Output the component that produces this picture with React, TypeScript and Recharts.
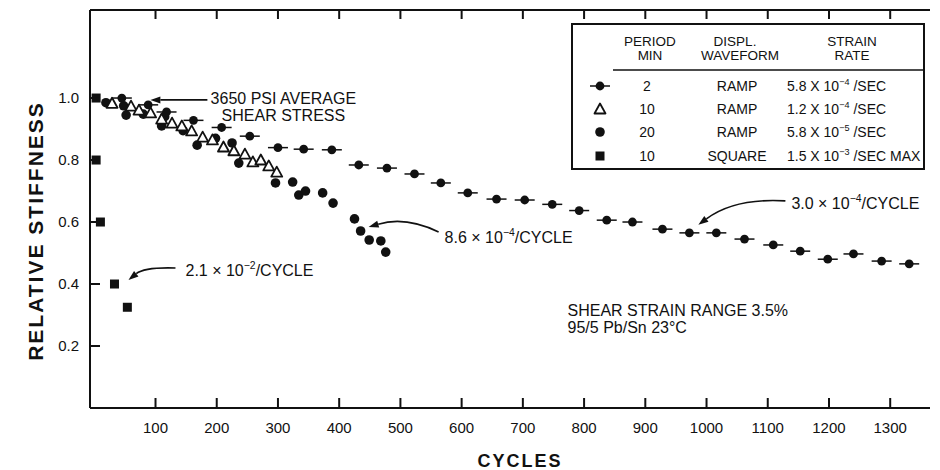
import React from 'react';
import { ScatterChart, Scatter, XAxis, YAxis, ReferenceDot } from 'recharts';

const FONT = '"Liberation Sans", Arial, Helvetica, sans-serif';
const INK = '#111';

// period 2 min, ramp (dot with dash)
const ramp2Cycles = [45, 88, 118, 162, 208, 254, 300, 342, 388, 432, 478, 523, 566, 610, 657, 703, 748, 792, 837, 879, 928, 972, 1016, 1062, 1109, 1153, 1198, 1240, 1286, 1331];
const ramp2Stiffness = [1.0, 0.978, 0.955, 0.928, 0.905, 0.877, 0.84, 0.835, 0.833, 0.784, 0.774, 0.755, 0.726, 0.694, 0.674, 0.671, 0.657, 0.637, 0.606, 0.6, 0.577, 0.565, 0.565, 0.545, 0.526, 0.506, 0.48, 0.497, 0.474, 0.465];

// period 10 min, ramp (open triangle)
const ramp10Cycles = [29, 60, 73, 92, 110, 127, 143, 159, 177, 193, 211, 228, 246, 259, 272, 285, 298];
const ramp10Stiffness = [0.983, 0.974, 0.961, 0.952, 0.932, 0.919, 0.91, 0.894, 0.874, 0.865, 0.842, 0.83, 0.819, 0.794, 0.8, 0.781, 0.761];

// period 20 min, ramp (dot)
const ramp20Cycles = [19, 48, 52, 80, 110, 115, 145, 168, 198, 225, 236, 296, 324, 334, 345, 373, 390, 425, 435, 449, 468, 476];
const ramp20Stiffness = [0.985, 0.975, 0.945, 0.948, 0.91, 0.94, 0.895, 0.848, 0.87, 0.855, 0.79, 0.726, 0.729, 0.687, 0.7, 0.694, 0.661, 0.61, 0.571, 0.542, 0.539, 0.503];

// period 10 min, square wave (square)
const squareCycles = [3, 3, 10, 33, 54];
const squareStiffness = [1.0, 0.8, 0.6, 0.4, 0.325];

const xTicks = [100, 200, 300, 400, 500, 600, 700, 800, 900, 1000, 1100, 1200, 1300];
const yTicks = [0.2, 0.4, 0.6, 0.8, 1.0];
const xDomain: [number, number] = [-7, 1365];
const yDomain: [number, number] = [0, 1.284];

const legendPeriods = ['2', '10', '20', '10'];
const legendWaveforms = ['RAMP', 'RAMP', 'RAMP', 'SQUARE'];
const legendRateBase = ['5.8 X 10', '1.2 X 10', '5.8 X 10', '1.5 X 10'];
const legendRateExp = ['\u22124', '\u22124', '\u22125', '\u22123'];
const legendRateUnit = ['/SEC', '/SEC', '/SEC', '/SEC MAX'];

const toPoints = (xs: number[], ys: number[]) => xs.map((x, i) => ({ x, y: ys[i] }));

const ramp2 = toPoints(ramp2Cycles, ramp2Stiffness);
const ramp10 = toPoints(ramp10Cycles, ramp10Stiffness);
const ramp20 = toPoints(ramp20Cycles, ramp20Stiffness);
const square = toPoints(squareCycles, squareStiffness);

const CHART_W = 940;
const CHART_H = 470;
const MARGIN = { top: 9, right: 10, bottom: 0, left: 10 };
const Y_AXIS_W = 80;
const TOP_AXIS_H = 1;
const TICK_LEN = 10;

// plot box, same numbers the chart lays itself out with
const plotLeft = MARGIN.left + Y_AXIS_W;
const plotRight = CHART_W - MARGIN.right;
const plotTop = MARGIN.top + TOP_AXIS_H;

// marker shapes
const DashDot = ({ cx, cy }: any) => (
    <g>
        <line x1={cx - 10} x2={cx + 10} y1={cy} y2={cy} stroke={INK} strokeWidth={1.5} />
        <circle cx={cx} cy={cy} r={4.4} fill={INK} />
    </g>
);
const OpenTriangle = ({ cx, cy }: any) => (
    <path
        d={`M${cx},${cy - 5.5} L${cx + 5.5},${cy + 4.5} L${cx - 5.5},${cy + 4.5} Z`}
        fill="#fff"
        stroke={INK}
        strokeWidth={1.8}
        strokeLinejoin="round"
    />
);
const Dot = ({ cx, cy }: any) => <circle cx={cx} cy={cy} r={4.8} fill={INK} />;
const Square = ({ cx, cy }: any) => <rect x={cx - 4.5} y={cy - 4.5} width={9} height={9} fill={INK} />;

const CurvedArrow = ({ x1, y1, qx, qy, x2, y2 }: any) => {
    const ang = Math.atan2(y2 - qy, x2 - qx);
    const len = 10;
    const half = 3.5;
    const bx = x2 - len * Math.cos(ang);
    const by = y2 - len * Math.sin(ang);
    const px = -Math.sin(ang) * half;
    const py = Math.cos(ang) * half;
    return (
        <g>
            <path d={`M${x1},${y1} Q${qx},${qy} ${bx},${by}`} fill="none" stroke={INK} strokeWidth={1.6} />
            <path d={`M${x2},${y2} L${bx + px},${by + py} L${bx - px},${by - py} Z`} fill={INK} />
        </g>
    );
};

const RateText = ({ x, y, base, exp, unit, size, anchor = 'start' }: any) => (
    <text x={x} y={y} fontSize={size} fill={INK} fontFamily={FONT} textAnchor={anchor} style={{ whiteSpace: 'pre' }}>
        {base}
        <tspan dy={-size * 0.45} fontSize={size * 0.65}>{exp}</tspan>
        <tspan dy={size * 0.45} fontSize={size}>{unit}</tspan>
    </text>
);

const LeftTick = ({ x, y, payload }: any) => (
    <g>
        <path d={`M${x + 11},${y} h${TICK_LEN}`} stroke={INK} strokeWidth={2} fill="none" />
        <text x={x} y={y + 5} textAnchor="end" fontSize={15} fill={INK} fontFamily={FONT}>
            {Number(payload.value).toFixed(1)}
        </text>
    </g>
);
const BottomTick = ({ x, y, payload }: any) => (
    <g>
        <path d={`M${x},${y - 20} v${-TICK_LEN}`} stroke={INK} strokeWidth={2} fill="none" />
        <text x={x} y={y + 5} textAnchor="middle" fontSize={15} fill={INK} fontFamily={FONT}>
            {payload.value}
        </text>
    </g>
);

// inward marks along the top frame, laid over the chart
const TopTicks = () => {
    const scaleX = (v: number) => plotLeft + ((v - xDomain[0]) / (xDomain[1] - xDomain[0])) * (plotRight - plotLeft);
    return (
        <svg width={CHART_W} height={40} style={{ position: 'absolute', left: 0, top: 0, pointerEvents: 'none' }}>
            {xTicks.map((t) => (
                <path key={t} d={`M${scaleX(t)},${plotTop} v${TICK_LEN - 1}`} stroke={INK} strokeWidth={2} fill="none" />
            ))}
        </svg>
    );
};

const XTitle = (props: any) => {
    const vb = props.viewBox ?? { x: 90, y: 408, width: 840, height: 62 };
    return (
        <text x={vb.x + vb.width / 2 + 10} y={vb.y + vb.height - 3} textAnchor="middle" fontSize={18} fontWeight="bold" letterSpacing={2} fill={INK} fontFamily={FONT}>
            CYCLES
        </text>
    );
};
const YTitle = (props: any) => {
    const vb = props.viewBox ?? { x: 10, y: 10, width: 80, height: 398 };
    const cx = vb.x + 25;
    const cy = vb.y + vb.height / 2 + 22;
    return (
        <text transform={`translate(${cx},${cy}) rotate(-90)`} textAnchor="middle" dominantBaseline="central" fontSize={21} fontWeight="bold" letterSpacing={2} fill={INK} fontFamily={FONT}>
            RELATIVE STIFFNESS
        </text>
    );
};

const noteText = { fontSize: 16, fill: INK, fontFamily: FONT } as const;

const LegendBox = () => {
    const rows = [63, 86, 109, 133];
    const symbols = [DashDot, OpenTriangle, Dot, Square];
    return (
        <svg width={354} height={147} style={{ position: 'absolute', left: 571, top: 23 }}>
            <rect x={1} y={1} width={352} height={145} fill="#fff" stroke={INK} strokeWidth={2} />
            <g fontFamily={FONT} fontSize={13.5} fill={INK} textAnchor="middle">
                <text x={79} y={23}>PERIOD</text>
                <text x={79} y={37}>MIN</text>
                <text x={164} y={23}>DISPL.</text>
                <text x={169} y={37}>WAVEFORM</text>
                <text x={281} y={23}>STRAIN</text>
                <text x={281} y={37}>RATE</text>
            </g>
            <line x1={42} x2={354} y1={47} y2={47} stroke={INK} strokeWidth={1.5} />
            {rows.map((ry, i) => {
                const Sym = symbols[i];
                return (
                    <g key={i}>
                        <Sym cx={29} cy={ry} />
                        <text x={76} y={ry + 5} textAnchor="middle" fontSize={14} fill={INK} fontFamily={FONT}>{legendPeriods[i]}</text>
                        <text x={166} y={ry + 5} textAnchor="middle" fontSize={14} fill={INK} fontFamily={FONT}>{legendWaveforms[i]}</text>
                        <RateText x={216} y={ry + 5} size={14} base={legendRateBase[i]} exp={legendRateExp[i]} unit={' ' + legendRateUnit[i]} />
                    </g>
                );
            })}
        </svg>
    );
};

export default function App() {
    return (
        <div style={{ position: 'relative', width: CHART_W, height: CHART_H, background: '#fff' }}>
            <style>{'body{margin:0;background:#fff}'}</style>
            <ScatterChart width={CHART_W} height={CHART_H} margin={MARGIN}>
                <XAxis
                    xAxisId="top"
                    orientation="top"
                    type="number"
                    dataKey="x"
                    domain={xDomain}
                    ticks={xTicks}
                    interval={0}
                    height={TOP_AXIS_H}
                    tick={false}
                    tickLine={false}
                    allowDataOverflow
                    axisLine={{ stroke: INK, strokeWidth: 2 }}
                />
                <XAxis
                    type="number"
                    dataKey="x"
                    domain={xDomain}
                    ticks={xTicks}
                    interval={0}
                    height={62}
                    tickSize={0}
                    tickMargin={20}
                    tickLine={false}
                    allowDataOverflow
                    axisLine={{ stroke: INK, strokeWidth: 2 }}
                    tick={BottomTick}
                    label={{ content: XTitle }}
                />
                <YAxis
                    type="number"
                    dataKey="y"
                    domain={yDomain}
                    ticks={yTicks}
                    interval={0}
                    width={Y_AXIS_W}
                    tickSize={0}
                    tickMargin={11}
                    tickLine={false}
                    allowDataOverflow
                    axisLine={{ stroke: INK, strokeWidth: 2 }}
                    tick={LeftTick}
                    label={{ content: YTitle }}
                />

                <Scatter data={ramp20} shape={Dot} isAnimationActive={false} />
                <Scatter data={ramp2} shape={DashDot} isAnimationActive={false} />
                <Scatter data={square} shape={Square} isAnimationActive={false} />
                <Scatter data={ramp10} shape={OpenTriangle} isAnimationActive={false} />

                {/* 3650 psi note, arrow points at the 2 min series */}
                <ReferenceDot
                    x={90}
                    y={0.994}
                    r={0}
                    shape={({ cx, cy }: any) => (
                        <g>
                            <CurvedArrow x1={cx + 58} y1={cy} qx={cx + 30} qy={cy} x2={cx + 1} y2={cy} />
                            <text x={cx + 134} y={cy + 4} textAnchor="middle" {...noteText}>3650 PSI AVERAGE</text>
                            <text x={cx + 134} y={cy + 21} textAnchor="middle" {...noteText}>SHEAR STRESS</text>
                        </g>
                    )}
                />
                {/* square wave slope */}
                <ReferenceDot
                    x={33}
                    y={0.4}
                    r={0}
                    shape={({ cx, cy }: any) => (
                        <g>
                            <CurvedArrow x1={cx + 61} y1={cy - 16} qx={cx + 30} qy={cy - 17} x2={cx + 14} y2={cy - 4} />
                            <RateText x={cx + 71} y={cy - 8} size={16} base={'2.1 \u00d7 10'} exp={'\u22122'} unit="/CYCLE" />
                        </g>
                    )}
                />
                {/* 20 min ramp slope */}
                <ReferenceDot
                    x={435}
                    y={0.571}
                    r={0}
                    shape={({ cx, cy }: any) => (
                        <g>
                            <CurvedArrow x1={cx + 78} y1={cy + 1} qx={cx + 45} qy={cy - 15} x2={cx + 8} y2={cy - 4} />
                            <RateText x={cx + 84} y={cy + 12} size={16} base={'8.6 \u00d7 10'} exp={'\u22124'} unit="/CYCLE" />
                        </g>
                    )}
                />
                {/* 2 min ramp slope */}
                <ReferenceDot
                    x={972}
                    y={0.565}
                    r={0}
                    shape={({ cx, cy }: any) => (
                        <g>
                            <CurvedArrow x1={cx + 96} y1={cy - 32} qx={cx + 45} qy={cy - 35} x2={cx + 9} y2={cy - 8} />
                            <RateText x={cx + 102} y={cy - 24} size={16} base={'3.0 \u00d7 10'} exp={'\u22124'} unit="/CYCLE" />
                        </g>
                    )}
                />
                {/* test conditions */}
                <ReferenceDot
                    x={773}
                    y={0.3}
                    r={0}
                    shape={({ cx, cy }: any) => (
                        <g>
                            <text x={cx} y={cy + 1} {...noteText}>SHEAR STRAIN RANGE 3.5%</text>
                            <text x={cx} y={cy + 18} {...noteText}>95/5 Pb/Sn 23°C</text>
                        </g>
                    )}
                />
            </ScatterChart>
            <TopTicks />
            <LegendBox />
        </div>
    );
}
